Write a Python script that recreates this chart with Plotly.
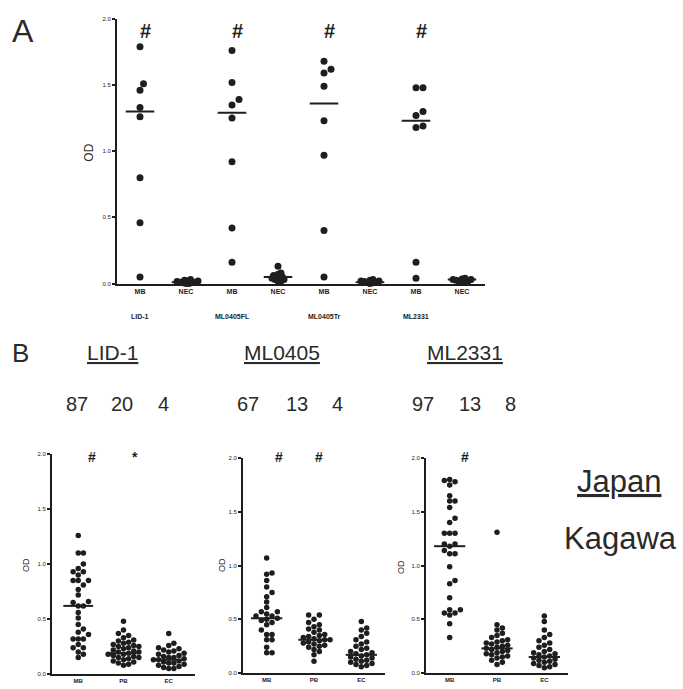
import plotly.graph_objects as go

W, H = 683, 689
FONT = "Liberation Sans, Arial, sans-serif"
INK = "#1e1e1e"

# ---------------- Panel A data ----------------
A_groups = ["LID-1", "ML0405FL", "ML0405Tr", "ML2331"]
A_cats = ["MB", "NEC", "MB", "NEC", "MB", "NEC", "MB", "NEC"]
A_lid1_mb = [1.79, 1.51, 1.46, 1.33, 1.26, 0.80, 0.46, 0.05]
A_lid1_nec = [0.0, 0.0, 0.005, 0.01, 0.01, 0.015, 0.02, 0.02, 0.025, 0.01, 0.03]
A_fl_mb = [1.76, 1.52, 1.39, 1.35, 1.25, 0.92, 0.42, 0.16]
A_fl_nec = [0.13, 0.08, 0.06, 0.05, 0.05, 0.04, 0.03, 0.03, 0.02, 0.02, 0.04, 0.07]
A_tr_mb = [1.68, 1.62, 1.59, 1.49, 1.23, 0.97, 0.40, 0.05]
A_tr_nec = [0.0, 0.005, 0.01, 0.01, 0.015, 0.02, 0.02, 0.025, 0.03]
A_2331_mb = [1.48, 1.48, 1.30, 1.27, 1.18, 1.19, 0.16, 0.04]
A_2331_nec = [0.01, 0.015, 0.02, 0.02, 0.025, 0.03, 0.03, 0.035, 0.04]
A_lines = [1.30, 0.01, 1.29, 0.05, 1.36, 0.01, 1.23, 0.03]

# ---------------- Panel B data ----------------
B_titles = ["LID-1", "ML0405", "ML2331"]
B_cats = ["MB", "PB", "EC"]
B_counts = [["87", "20", "4"], ["67", "13", "4"], ["97", "13", "8"]]

B_lid1_mb = [1.26, 1.10, 1.10, 1.00, 0.96, 0.93, 0.93, 0.90, 0.85, 0.85, 0.85, 0.81,
             0.77, 0.72, 0.66, 0.65, 0.62, 0.62, 0.56, 0.51, 0.45, 0.41, 0.38, 0.36,
             0.32, 0.32, 0.32, 0.27, 0.24, 0.24, 0.20, 0.18, 0.15]
B_lid1_pb = [0.48, 0.40, 0.37, 0.35, 0.33, 0.31, 0.30, 0.29, 0.28, 0.27, 0.26, 0.25,
             0.25, 0.24, 0.23, 0.22, 0.21, 0.20, 0.20, 0.19, 0.18, 0.18, 0.17, 0.16,
             0.15, 0.15, 0.14, 0.13, 0.12, 0.11, 0.10, 0.09, 0.08]
B_lid1_ec = [0.37, 0.28, 0.26, 0.24, 0.23, 0.22, 0.21, 0.20, 0.19, 0.18, 0.17, 0.16,
             0.15, 0.15, 0.14, 0.13, 0.13, 0.12, 0.11, 0.10, 0.10, 0.09, 0.08, 0.07,
             0.06, 0.05, 0.05]
B_lid1_lines = [0.62, 0.19, 0.13]

B_0405_mb = [1.07, 0.93, 0.92, 0.86, 0.80, 0.75, 0.71, 0.66, 0.61, 0.57, 0.57, 0.55,
             0.53, 0.53, 0.51, 0.50, 0.49, 0.47, 0.45, 0.40, 0.36, 0.36, 0.31, 0.31,
             0.24, 0.19, 0.19]
B_0405_pb = [0.54, 0.54, 0.50, 0.47, 0.45, 0.43, 0.41, 0.40, 0.38, 0.36, 0.35, 0.34,
             0.33, 0.32, 0.31, 0.31, 0.30, 0.29, 0.28, 0.27, 0.26, 0.25, 0.24, 0.22,
             0.20, 0.17, 0.11]
B_0405_ec = [0.48, 0.42, 0.40, 0.37, 0.34, 0.31, 0.29, 0.27, 0.25, 0.23, 0.22, 0.20,
             0.19, 0.18, 0.17, 0.16, 0.15, 0.14, 0.13, 0.12, 0.11, 0.10, 0.09, 0.08,
             0.07, 0.06]
B_0405_lines = [0.51, 0.31, 0.17]

B_2331_mb = [1.80, 1.79, 1.78, 1.75, 1.65, 1.60, 1.60, 1.54, 1.44, 1.40, 1.30, 1.30,
             1.30, 1.20, 1.20, 1.18, 1.14, 1.11, 1.11, 0.99, 0.86, 0.83, 0.70, 0.59,
             0.59, 0.56, 0.56, 0.54, 0.46, 0.33]
B_2331_pb = [1.31, 0.45, 0.42, 0.40, 0.37, 0.35, 0.33, 0.31, 0.30, 0.29, 0.28, 0.27,
             0.26, 0.25, 0.24, 0.23, 0.22, 0.21, 0.20, 0.19, 0.18, 0.17, 0.16, 0.15,
             0.14, 0.12, 0.10, 0.08]
B_2331_ec = [0.53, 0.48, 0.40, 0.36, 0.33, 0.30, 0.28, 0.26, 0.24, 0.22, 0.20, 0.19,
             0.18, 0.17, 0.16, 0.15, 0.14, 0.13, 0.12, 0.11, 0.10, 0.09, 0.08, 0.07,
             0.06, 0.05]
B_2331_lines = [1.18, 0.23, 0.15]

Y_TICKS = [0.0, 0.5, 1.0, 1.5, 2.0]
Y_TICKTEXT = ["0.0", "0.5", "1.0", "1.5", "2.0"]


def px(x):
    return x / W


def py(y):
    return 1 - y / H


def swarm(vals, ppu, ppc, d):
    """Deterministic beeswarm offsets (category units)."""
    placed = []
    offs = [0.0] * len(vals)
    order = sorted(range(len(vals)), key=lambda i: vals[i])
    for i in order:
        yv = vals[i] * ppu
        k = 0
        while True:
            c = 0 if k == 0 else ((k + 1) // 2) * (1 if k % 2 == 1 else -1)
            xv = c * d * 0.5
            if all((xv - a) ** 2 + (yv - b) ** 2 >= d * d for a, b in placed):
                break
            k += 1
        placed.append((xv, yv))
        offs[i] = xv / ppc
    return offs


fig = go.Figure()


def add_group(vals, cat, xa, ya, ppu, ppc, d, size):
    offs = swarm(vals, ppu, ppc, d)
    fig.add_trace(go.Scatter(
        x=[cat + o for o in offs], y=vals, mode="markers",
        marker=dict(size=size, color=INK, line=dict(width=0)),
        xaxis=xa, yaxis=ya, cliponaxis=False, showlegend=False, hoverinfo="y"))


def add_line(cat, val, half, xa, ya):
    fig.add_trace(go.Scatter(
        x=[cat - half, cat + half], y=[val, val], mode="lines",
        line=dict(color=INK, width=2), xaxis=xa, yaxis=ya,
        cliponaxis=False, showlegend=False, hoverinfo="skip"))


# ---- Panel A ----
A_sets = [A_lid1_mb, A_lid1_nec, A_fl_mb, A_fl_nec, A_tr_mb, A_tr_nec, A_2331_mb, A_2331_nec]
for i, vals in enumerate(A_sets):
    if i % 2 == 0:
        add_group(vals, i, "x", "y", 133.5, 46, 7, 7)
    else:
        add_group(vals, i, "x", "y", 133.5, 46, 3, 7)
for i, v in enumerate(A_lines):
    add_line(i, v, 0.31, "x", "y")

# ---- Panel B ----
B_sets = [
    ([B_lid1_mb, B_lid1_pb, B_lid1_ec], B_lid1_lines, "x2", "y2"),
    ([B_0405_mb, B_0405_pb, B_0405_ec], B_0405_lines, "x3", "y3"),
    ([B_2331_mb, B_2331_pb, B_2331_ec], B_2331_lines, "x4", "y4"),
]
for sets, lines, xa, ya in B_sets:
    for j, vals in enumerate(sets):
        add_group(vals, j, xa, ya, 110, 46, 5.2, 5.5)
    for j, v in enumerate(lines):
        add_line(j, v, 0.33, xa, ya)

axis_common = dict(showline=True, linewidth=2, linecolor=INK, showgrid=False,
                   zeroline=False, fixedrange=True)
ytick_font = dict(family=FONT, size=6, color=INK)

layout = dict(
    width=W, height=H, margin=dict(l=0, r=0, t=0, b=0),
    paper_bgcolor="white", plot_bgcolor="rgba(0,0,0,0)",
    font=dict(family=FONT, color=INK),
    xaxis=dict(domain=[px(117), px(485)], range=[-0.5, 7.5], anchor="y",
               tickvals=list(range(8)), ticktext=["<b>%s</b>" % c for c in A_cats],
               ticks="", tickfont=dict(family=FONT, size=7, color=INK), **axis_common),
    yaxis=dict(domain=[py(283), py(16)], range=[0, 2.0], anchor="x",
               tickvals=Y_TICKS, ticktext=Y_TICKTEXT, ticks="outside", ticklen=3,
               tickwidth=1.5, tickcolor=INK, tickfont=ytick_font, **axis_common),
)

B_geom = [
    (52, 195, 677, 455, [-0.58, 2.58]),
    (243, 385, 676, 459, [-0.5, 2.5]),
    (426, 568, 676, 459, [-0.5, 2.5]),
]
for k, (x0, x1, y0, y1, rng) in enumerate(B_geom):
    n = k + 2
    layout["xaxis%d" % n] = dict(domain=[px(x0), px(x1)], range=rng, anchor="y%d" % n,
                                 tickvals=[0, 1, 2],
                                 ticktext=["<b>%s</b>" % c for c in B_cats], ticks="",
                                 tickfont=dict(family=FONT, size=6, color=INK), **axis_common)
    layout["yaxis%d" % n] = dict(domain=[py(y0), py(y1)], range=[0, 2.0], anchor="x%d" % n,
                                 tickvals=Y_TICKS, ticktext=Y_TICKTEXT, ticks="outside",
                                 ticklen=3, tickwidth=1.5, tickcolor=INK,
                                 tickfont=ytick_font, **axis_common)
fig.update_layout(**layout)

ann = []


def text(x, y, s, size, xanchor="center", angle=0, color="#2a2a2a"):
    ann.append(dict(x=px(x), y=py(y), xref="paper", yref="paper", text=s, showarrow=False,
                    xanchor=xanchor, yanchor="middle", textangle=angle,
                    font=dict(family=FONT, size=size, color=color)))


# Panel A texts
text(23, 28, "A", 32)
for i in range(4):
    ann.append(dict(x=2 * i + 0.12, y=py(28), xref="x", yref="paper", text="<b>#</b>",
                    xanchor="center", yanchor="middle",
                    showarrow=False, font=dict(family=FONT, size=20, color=INK)))
for i, g in enumerate(A_groups):
    ann.append(dict(x=2 * i, y=py(316), xref="x", yref="paper", text="<b>%s</b>" % g,
                    xanchor="center", yanchor="middle",
                    showarrow=False, font=dict(family=FONT, size=7, color=INK)))
text(89, 151, "OD", 12, angle=-90)

# Panel B texts
text(20, 353, "B", 26)
for x, t in zip([112, 282, 465], B_titles):
    text(x, 353, "<u>%s</u>" % t, 21)
count_x = [[77, 122, 163], [248, 297, 337], [423, 470, 510]]
for xs, cs in zip(count_x, B_counts):
    for x, c in zip(xs, cs):
        text(x, 405, c, 20)
# significance markers
sig = [("x2", 0, "#", 0.3), ("x2", 1, "*", 0.25), ("x3", 0, "#", 0.25),
       ("x3", 1, "#", 0.1), ("x4", 0, "#", 0.33)]
for xa, c, s, dx in sig:
    ann.append(dict(x=c + dx, y=py(458), xref=xa, xanchor="center", yanchor="middle",
                    yref="paper", text="<b>%s</b>" % s, showarrow=False,
                    font=dict(family=FONT, size=14, color=INK)))
text(26, 567, "OD", 9, angle=-90)
text(222, 567, "OD", 9, angle=-90)
text(401, 569, "OD", 9, angle=-90)

text(619, 483, "<u>Japan</u>", 31)
text(620, 540, "Kagawa", 31)

fig.update_layout(annotations=ann)
fig.write_html("out.html", config={"displayModeBar": False},
               post_script="document.body.style.margin='0';")
